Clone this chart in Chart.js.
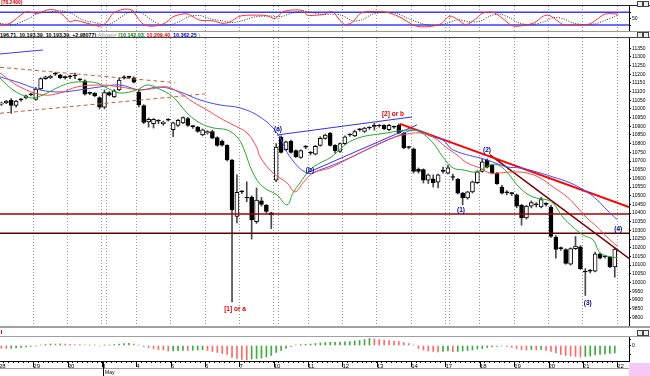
<!DOCTYPE html>
<html>
<head>
<meta charset="utf-8">
<script src="https://cdn.jsdelivr.net/npm/chart.js@4/dist/chart.umd.min.js"></script>
<style>
  body { margin: 0; width: 650px; height: 376px; overflow: hidden; position: relative; background: #fff;
         font-family: "Liberation Sans", Arial, sans-serif; }
  canvas { position: absolute; left: 0; }
  .ln { position: absolute; left: 0; width: 650px; }
  .t { position: absolute; white-space: nowrap; font-weight: bold; line-height: 1; }
  .lab { position: absolute; white-space: nowrap; font-weight: bold; font-size: 6.5px; line-height: 1;
         transform: translate(-50%, -50%); }
  .ico { position: absolute; width: 4px; height: 4px; border: 1px solid #444; background: #eee; }
</style>
</head>
<body>
<div class="t" style="left:1px;top:0px;font-size:5px;color:#e00000">(78.2400)</div>
<div class="ln" style="top:5px;height:1px;background:#222"></div>
<canvas id="stoch" width="650" height="25" style="top:6px"></canvas>
<div class="ln" style="top:31px;height:1px;background:#999"></div>
<div class="t" style="left:0px;top:32.5px;font-size:5.3px">
  <span style="color:#000">196.71, 10,193.39, 10,193.39, +2.98077)</span>
  <span style="color:#999;font-weight:normal">Alligator</span>
  <span style="color:#008000">(10,142.03,</span>
  <span style="color:#e00000">10,209.40,</span>
  <span style="color:#0000e0">10,362.25</span>
  <span style="color:#999">)</span>
</div>
<div class="ln" style="top:37px;height:1px;background:#444"></div>
<canvas id="main" width="650" height="288" style="top:38px"></canvas>
<div class="ln" style="top:326px;height:2px;background:#a0a0a0"></div>
<div class="t" style="left:1px;top:330px;width:1px;height:4px;background:#e00000"></div>
<div class="ln" style="top:336px;height:1px;background:#a0a0a0"></div>
<canvas id="macd" width="650" height="39" style="top:337px"></canvas>
<div class="ln" style="top:368px;height:1px;background:#a0a0a0"></div>
<div style="position:absolute;left:103px;top:361px;width:1px;height:15px;background:#000"></div>
<div class="t" style="left:105px;top:370px;font-size:5px;font-weight:normal">May</div>
<div style="position:absolute;left:629px;top:363px;width:21px;height:13px;background:#f6c8f4"></div>
<div class="ico" style="left:637px;top:1px"></div><div class="ico" style="left:643px;top:1px"></div>
<div class="ico" style="left:637px;top:32px"></div><div class="ico" style="left:643px;top:32px"></div>
<div class="ico" style="left:637px;top:330px"></div><div class="ico" style="left:643px;top:330px"></div>

<script>
// ---- data ----
const dayLabels = ['28','29','30','3','4','5','6','7','10','11','12','13','14','17','18','19','20','21','22'];

// hourly candles, 7 per day
const opens = [
  11028, 11035, 11050, 11020, 11052, 11065, 11082,
  11055, 11115, 11175, 11180, 11200, 11196, 11181,
  11185, 11190, 11168, 11162, 11090, 11092, 11065,
  11010, 11095, 11070, 11110, 11180, 11182, 11180,
  11098, 11020, 10925, 10915, 10930, 10915, 10935,
  10880, 10905, 10920, 10945, 10898, 10895, 10850,
  10862, 10870, 10835, 10815, 10790, 10706, 10380,
  10522, 10487, 10490, 10350, 10470, 10445, 10402,
  10590, 10838, 10765, 10815, 10760, 10720, 10780,
  10745, 10740, 10790, 10830, 10860, 10790, 10755,
  10800, 10850, 10845, 10880, 10870, 10890, 10900,
  10902, 10905, 10880, 10895, 10905, 10860, 10778,
  10770, 10652, 10650, 10590, 10597, 10578, 10640,
  10630, 10605, 10595, 10515, 10487, 10522, 10575,
  10640, 10706, 10675, 10630, 10550, 10517, 10512,
  10505, 10445, 10372, 10440, 10448, 10435, 10450,
  10435, 10262, 10195, 10190, 10105, 10195, 10205,
  10060, 10065, 10065, 10165, 10148, 10145, 10090
];
const highs = [
  11040, 11050, 11060, 11050, 11060, 11080, 11090,
  11125, 11180, 11190, 11195, 11212, 11200, 11190,
  11195, 11207, 11175, 11168, 11098, 11095, 11070,
  11110, 11100, 11112, 11180, 11192, 11190, 11185,
  11112, 11025, 10948, 10945, 10938, 10930, 10945,
  10925, 10940, 10955, 10952, 10905, 10900, 10885,
  10875, 10878, 10840, 10822, 10795, 10710, 10620,
  10530, 10580, 10500, 10545, 10490, 10450, 10405,
  10800, 10845, 10815, 10820, 10765, 10765, 10790,
  10755, 10790, 10840, 10855, 10865, 10795, 10805,
  10845, 10858, 10878, 10888, 10895, 10898, 10918,
  10910, 10910, 10912, 10902, 10915, 10865, 10785,
  10775, 10660, 10655, 10625, 10620, 10625, 10665,
  10677, 10625, 10600, 10520, 10525, 10585, 10645,
  10710, 10712, 10680, 10635, 10560, 10530, 10520,
  10510, 10450, 10445, 10470, 10460, 10490, 10460,
  10445, 10270, 10205, 10195, 10200, 10265, 10212,
  10080, 10075, 10175, 10170, 10155, 10150, 10200
];
const lows = [
  11020, 11030, 10975, 11010, 11045, 11058, 11075,
  11050, 11110, 11170, 11175, 11192, 11175, 11172,
  11175, 11175, 11160, 11080, 11082, 11070, 11000,
  11000, 11075, 11065, 11105, 11172, 11175, 11150,
  11012, 10915, 10895, 10890, 10915, 10905, 10930,
  10840, 10900, 10915, 10900, 10888, 10865, 10845,
  10855, 10828, 10785, 10785, 10700, 9888, 10343,
  10512, 10465, 10250, 10340, 10440, 10400, 10310,
  10580, 10745, 10760, 10745, 10720, 10715, 10770,
  10735, 10735, 10785, 10825, 10785, 10745, 10750,
  10795, 10842, 10840, 10872, 10865, 10882, 10878,
  10895, 10880, 10875, 10888, 10858, 10770, 10770,
  10630, 10630, 10573, 10570, 10550, 10545, 10630,
  10625, 10590, 10510, 10447, 10480, 10515, 10570,
  10635, 10660, 10625, 10565, 10510, 10505, 10500,
  10430, 10330, 10365, 10430, 10435, 10430, 10440,
  10260, 10140, 10185, 10105, 10100, 10190, 10075,
  9925, 10055, 10060, 10135, 10140, 10085, 10030
];
const closes = [
  11032, 11045, 11020, 11045, 11052, 11075, 11082,
  11115, 11175, 11185, 11188, 11200, 11179, 11181,
  11185, 11190, 11168, 11085, 11090, 11075, 11010,
  11095, 11080, 11105, 11167, 11180, 11182, 11155,
  11023, 10922, 10940, 10940, 10930, 10925, 10935,
  10920, 10935, 10950, 10905, 10898, 10870, 10880,
  10870, 10832, 10790, 10792, 10706, 10418, 10520,
  10522, 10487, 10360, 10475, 10450, 10410, 10390,
  10780, 10750, 10810, 10750, 10725, 10760, 10780,
  10745, 10785, 10830, 10850, 10790, 10760, 10800,
  10840, 10850, 10870, 10880, 10890, 10890, 10900,
  10902, 10885, 10905, 10895, 10862, 10775, 10778,
  10640, 10640, 10590, 10620, 10575, 10620, 10640,
  10660, 10605, 10515, 10487, 10522, 10580, 10637,
  10695, 10665, 10630, 10570, 10515, 10517, 10512,
  10440, 10372, 10440, 10460, 10448, 10478, 10450,
  10265, 10190, 10195, 10110, 10195, 10210, 10080,
  10060, 10065, 10165, 10140, 10148, 10090, 10193
];

// Alligator lines (bar index, price)
const lipsX  = [-0.29, 2.36, 5.22, 6.44, 8.48, 11.33, 13.98, 16.63, 19.48, 21.52, 24.17, 27.63, 29.67, 31.71, 34.97, 37.82, 40.47, 43.12, 45.97, 48.01, 49.24, 51.27, 53.31, 56.17, 58.2, 59.42, 60.85, 62.89, 64.93, 66.97, 71.65, 78.58, 83.27, 85.31, 87.96, 89.99, 92.03, 94.07, 96.92, 99.57, 101.2, 103.0, 105.7, 108.3, 111.2, 112.4, 114.4, 116.5, 118.5, 120.6, 121.6, 122.6, 125.5];
const lipsY  = [11179, 11110, 11069, 11064, 11081, 11121, 11150, 11156, 11150, 11121, 11092, 11110, 11138, 11121, 11069, 10977, 10919, 10891, 10879, 10839, 10781, 10631, 10551, 10504, 10447, 10516, 10574, 10649, 10689, 10718, 10821, 10862, 10879, 10868, 10804, 10723, 10660, 10649, 10637, 10677, 10677, 10637, 10544, 10493, 10476, 10458, 10377, 10319, 10274, 10245, 10187, 10159, 10142];
const teethX = [-0.29, 3.79, 8.48, 11.94, 15.41, 20.09, 24.17, 28.25, 31.71, 33.75, 36.4, 39.05, 41.9, 44.55, 47.2, 50.05, 52.09, 52.7, 55.35, 58.2, 59.83, 61.46, 63.5, 66.97, 71.04, 75.12, 78.58, 81.84, 85.31, 87.96, 90.81, 92.85, 94.89, 97.54, 99.57, 101.6, 104.3, 107.1, 109.8, 112.4, 115.3, 117.3, 119.3, 121.4, 123.4, 125.5];
const teethY = [11207, 11127, 11081, 11092, 11127, 11138, 11127, 11110, 11121, 11127, 11092, 11040, 10994, 10948, 10908, 10862, 10775, 10724, 10631, 10574, 10522, 10574, 10631, 10660, 10718, 10775, 10821, 10850, 10862, 10839, 10775, 10735, 10689, 10660, 10631, 10631, 10637, 10631, 10602, 10551, 10493, 10435, 10372, 10320, 10262, 10209];
const jawX   = [-0.29, 3.79, 7.87, 11.94, 16.02, 20.09, 24.17, 28.25, 32.32, 36.4, 40.47, 44.55, 48.63, 52.7, 56.17, 58.81, 62.28, 64.93, 70.02, 76.54, 81.23, 84.29, 87.35, 89.99, 92.03, 98.96, 103.0, 105.7, 109.1, 112.4, 115.9, 119.3, 121.4, 123.4, 125.5];
const jawY   = [11185, 11150, 11110, 11098, 11110, 11127, 11138, 11110, 11127, 11098, 11052, 11023, 11006, 10954, 10862, 10724, 10631, 10649, 10706, 10793, 10850, 10879, 10844, 10821, 10764, 10706, 10666, 10660, 10637, 10608, 10574, 10522, 10476, 10418, 10362];

// drawn trend lines: [[x1, p1], [x2, p2]]
const redTrend    = [[81.23, 10914], [127.9, 10435]];
const maroonTrend = [[99.57, 10735], [127.9, 10138]];
const wedgeTop    = [[56.17, 10850], [83.68, 10954]];
const wedgeBottom = [[62.28, 10631], [84.69, 10908]];
const channelTop  = [[-0.29, 11240], [35.38, 11152]];
const channelLow  = [[-0.29, 10975], [41.49, 11087]];
const blueTopLeft = [[-0.29, 11317], [8.48, 11340]];
const supportLevels = [10395, 10283];

const waveLabels = [
  { t: '(a)',      x: 56.37,  p: 10885, c: '#000090' },
  { t: '(b)',      x: 62.89,  p: 10649, c: '#000090' },
  { t: '[2] or b', x: 79.8,   p: 10971, c: '#e00000' },
  { t: '[1] or a', x: 47.61,  p: 9848,  c: '#e00000' },
  { t: '(1)',      x: 93.66,  p: 10418, c: '#000090' },
  { t: '(2)',      x: 98.96,  p: 10764, c: '#000090' },
  { t: '(3)',      x: 119.5,  p: 9882,  c: '#000090' },
  { t: '(4)',      x: 125.7,  p: 10309, c: '#000090' }
];

// stochastic %K and %D
const stochKx = [-0.29, 1.75, 4.4, 5.42, 7.26, 9.29, 10.92, 12.55, 13.98, 15.0, 16.43, 18.06, 20.09, 21.52, 22.74, 24.78, 26.61, 27.63, 28.86, 30.28, 32.32, 33.75, 34.97, 36.81, 38.03, 39.05, 40.47, 43.12, 45.16, 46.59, 48.63, 51.27, 54.13, 55.76, 57.39, 59.42, 61.46, 62.28, 64.32, 65.95, 67.38, 69.82, 71.45, 73.28, 75.73, 78.38, 80.82, 84.29, 86.73, 89.38, 91.42, 93.46, 94.68, 96.92, 98.15, 100.2, 102.0, 104.1, 106.1, 108.7, 110.4, 111.6, 113.4, 114.6, 117.1, 119.7, 121.4, 123.0, 125.7];
const stochK  = [20, 28, 75, 83, 75, 91, 91, 67, 35, 43, 35, 25, 15, 35, 75, 94, 91, 59, 25, 15, 20, 35, 59, 72, 72, 59, 43, 40, 28, 35, 62, 67, 64, 51, 83, 91, 88, 67, 67, 72, 84, 24, 32, 77, 84, 81, 62, 17, 12, 24, 62, 39, 21, 54, 77, 80, 54, 17, 17, 32, 62, 66, 39, 21, 21, 24, 47, 72, 72];
const stochDx = [-0.29, 2.5, 5.5, 7.5, 9.5, 12, 14.5, 16.5, 19, 21, 22.5, 24.5, 26.5, 28.5, 30.5, 32.5, 34.5, 36.5, 38.5, 40.5, 42.5, 45, 47, 49, 51.5, 54.5, 57, 59, 61.5, 63.5, 65.5, 67.5, 69.5, 71.5, 73.5, 75.5, 78, 80.5, 83, 86, 88.5, 91, 93, 95.5, 97.5, 99.5, 101.5, 103.5, 105.5, 108, 110.5, 112.5, 114.5, 116.5, 119, 121, 123, 125, 125.7];
const stochD  = [28, 22, 50, 75, 80, 88, 72, 45, 32, 22, 28, 60, 85, 78, 45, 22, 22, 40, 62, 65, 50, 40, 32, 40, 58, 63, 60, 75, 87, 78, 70, 72, 65, 40, 45, 70, 80, 75, 50, 25, 18, 30, 45, 35, 38, 62, 72, 55, 30, 22, 35, 55, 50, 30, 22, 26, 42, 60, 68];
const stochBands = [20, 80];

// MACD histogram, one bar per candle
const macdHist = [
  -2.6, -3, -2.8, -2.5, -2, -1.5, -1,
  -0.5, 0.5, 1, 1.5, 1.5, 1.6, 1.5,
  1.2, 1, 1, 0.5, 0.3, 0.5, -0.5,
  0.3, 0.5, 1, 1.5, 2, 2.1, 1.5,
  0.5, -1, -2, -3, -4, -4.5, -5.5,
  -5.3, -5.2, -5, -5, -4.8, -4.5, -4.3,
  -5, -6, -7, -8, -9, -12, -13,
  -14, -14.5, -13.5, -13, -12.5, -11.5, -10,
  -7, -5, -3, -1, 0.5, 1, 1.2,
  1.5, 2, 2.5, 3, 3.1, 3.2, 3.5,
  3.6, 4, 4.5, 5, 6, 7, 6.5,
  6, 5.5, 5, 4.5, 4, 3, 2,
  0.3, -3, -4.5, -5.5, -6, -6.5, -6,
  -5.5, -6.2, -6, -5.5, -5, -4.5, -3.5,
  -3, -2, -1.5, -1, -0.5, -1, -2,
  -3, -4, -4.5, -4, -4.5, -4, -5,
  -6, -7.5, -9, -10, -10.5, -11, -11.5,
  -11, -10.5, -9.5, -9, -8.5, -8, -7.5
];

// ---- chart setup ----
Chart.defaults.font.family = '"Liberation Sans", Arial, sans-serif';
Chart.defaults.font.size = 5;
Chart.defaults.color = '#000';
Chart.defaults.animation = false;
Chart.defaults.plugins.legend.display = false;
Chart.defaults.plugins.tooltip.enabled = false;

const X_MIN = -0.285, X_MAX = 127.9;
const pts = (xs, ys) => xs.map((x, k) => ({ x: x, y: ys[k] }));
const seg = s => s.map(p => ({ x: p[0], y: p[1] }));

// dotted day separators
const gridVals = [];
for (let d = 1; d < dayLabels.length; d++) gridVals.push(7 * d - 0.5);
gridVals.push(21.42, 56.42, 91.42);

function xGrid() {
  return {
    type: 'linear', min: X_MIN, max: X_MAX, offset: false,
    afterBuildTicks: s => { s.ticks = gridVals.map(v => ({ value: v })); },
    ticks: { display: false },
    grid: { color: '#9a9a9a', drawTicks: false, lineWidth: 1, offset: false },
    border: { display: false, dash: [1, 2] },
    afterFit: s => { s.height = 0; s.paddingLeft = 0; s.paddingRight = 0; }
  };
}
function yRight(min, max, vals, fmt) {
  return {
    type: 'linear', position: 'right', min: min, max: max,
    afterBuildTicks: s => { s.ticks = vals.map(v => ({ value: v })); },
    ticks: { autoSkip: false, padding: 1, color: '#000', font: { size: 5 }, callback: fmt },
    grid: { drawOnChartArea: false, drawTicks: true, tickLength: 2, color: '#000' },
    border: { display: true, color: '#000' },
    afterFit: s => { s.width = 21; s.paddingTop = 0; s.paddingBottom = 0; }
  };
}
function line(data, color, width, extra) {
  return Object.assign({ type: 'line', data: data, borderColor: color, borderWidth: width,
    pointRadius: 0, fill: false, order: 0 }, extra || {});
}

// stochastic panel
new Chart(document.getElementById('stoch'), {
  type: 'line',
  data: { datasets: [
    line(pts(stochKx, stochK), '#ff3030', 1, { tension: 0.3 }),
    line(pts(stochDx, stochD), '#303030', 1, { tension: 0.3, borderDash: [1, 1.5] }),
    line([{ x: X_MIN, y: stochBands[0] }, { x: X_MAX, y: stochBands[0] }], '#3c3cff', 1.5),
    line([{ x: X_MIN, y: stochBands[1] }, { x: X_MAX, y: stochBands[1] }], '#3c3cff', 1.5)
  ] },
  options: { responsive: false, layout: { padding: 0 },
    scales: { x: xGrid(), y: yRight(-8, 110, [20, 50, 80], v => v === 50 ? '50' : '') } }
});

// main price panel
const prices = [];
for (let v = 9800; v <= 11350; v += 50) prices.push(v);
const main = new Chart(document.getElementById('main'), {
  type: 'bar',
  data: { datasets: [
    line(pts(lipsX, lipsY), '#28a828', 1, { tension: 0.4 }),
    line(pts(teethX, teethY), '#ff4848', 1, { tension: 0.4 }),
    line(pts(jawX, jawY), '#4848ff', 1, { tension: 0.4 }),
    line(seg(redTrend), '#ff0000', 2),
    line(seg(maroonTrend), '#7a0000', 1.5),
    line(seg(wedgeTop), '#3030ff', 1),
    line(seg(wedgeBottom), '#3030ff', 1),
    line(seg(channelTop), '#c0603c', 1, { borderDash: [4, 3] }),
    line(seg(channelLow), '#c0603c', 1, { borderDash: [4, 3] }),
    line(seg(blueTopLeft), '#3c3cff', 1),
    line([{ x: X_MIN, y: supportLevels[0] }, { x: X_MAX, y: supportLevels[0] }], '#a00000', 1.5),
    line([{ x: X_MIN, y: supportLevels[1] }, { x: X_MAX, y: supportLevels[1] }], '#600000', 1.5),
    { type: 'bar', grouped: false, order: 5, barThickness: 4, minBarLength: 1,
      borderSkipped: false, borderWidth: 1, borderColor: '#000',
      data: opens.map((o, i) => ({ x: i, y: [Math.min(o, closes[i]), Math.max(o, closes[i])] })),
      backgroundColor: opens.map((o, i) => closes[i] > o ? '#fff' : '#000') },
    { type: 'bar', grouped: false, order: 6, barThickness: 1, borderWidth: 0,
      data: lows.map((l, i) => ({ x: i, y: [l, highs[i]] })),
      backgroundColor: '#4a4a4a' }
  ] },
  options: { responsive: false, layout: { padding: 0 },
    scales: { x: xGrid(), y: yRight(9749, 11409, prices, v => String(v)) } }
});

// wave count labels placed through the chart's scales
const mainTop = 38;
waveLabels.forEach(a => {
  const d = document.createElement('div');
  d.className = 'lab';
  d.textContent = a.t;
  d.style.color = a.c;
  d.style.left = main.scales.x.getPixelForValue(a.x) + 'px';
  d.style.top = (mainTop + main.scales.y.getPixelForValue(a.p)) + 'px';
  document.body.appendChild(d);
});

// MACD histogram with the date axis
const majorTicks = {
  id: 'majorTicks',
  afterDraw(c) {
    const s = c.scales.x, b = c.chartArea.bottom, ctx = c.ctx;
    ctx.save();
    ctx.strokeStyle = '#000';
    ctx.lineWidth = 1;
    for (let d = 0; d < dayLabels.length; d++) {
      const px = Math.round(s.getPixelForValue(7 * d - 0.5)) + 0.5;
      ctx.beginPath(); ctx.moveTo(px, b); ctx.lineTo(px, b + 6); ctx.stroke();
    }
    ctx.restore();
  }
};
new Chart(document.getElementById('macd'), {
  type: 'bar',
  data: { datasets: [{
    data: macdHist.map((v, i) => ({ x: i, y: v })),
    backgroundColor: macdHist.map((v, i) => (i > 0 && v > macdHist[i - 1]) ? '#3cac3c' : '#ff6a6a'),
    barThickness: 1, grouped: false
  }] },
  options: { responsive: false, layout: { padding: 0 },
    scales: {
      x: { type: 'linear', min: X_MIN, max: X_MAX, offset: false,
        afterBuildTicks: s => { const t = []; for (let i = 0; i <= 126; i++) t.push({ value: i - 0.5 }); s.ticks = t; },
        ticks: { autoSkip: false, maxRotation: 0, align: 'start', padding: 0, color: '#000', font: { size: 6 },
          callback: v => { const k = v + 0.5; return k % 7 === 0 ? dayLabels[k / 7] : ''; } },
        grid: { drawOnChartArea: false, drawTicks: true, tickLength: 2, color: '#000', offset: false },
        border: { display: true, color: '#000' },
        afterFit: s => { s.height = 15; s.paddingLeft = 0; s.paddingRight = 0; } },
      y: yRight(-15.5, 8.5, [-9, 0, 6], v => v === 0 ? '0' : '')
    } },
  plugins: [majorTicks]
});
</script>
</body>
</html>
